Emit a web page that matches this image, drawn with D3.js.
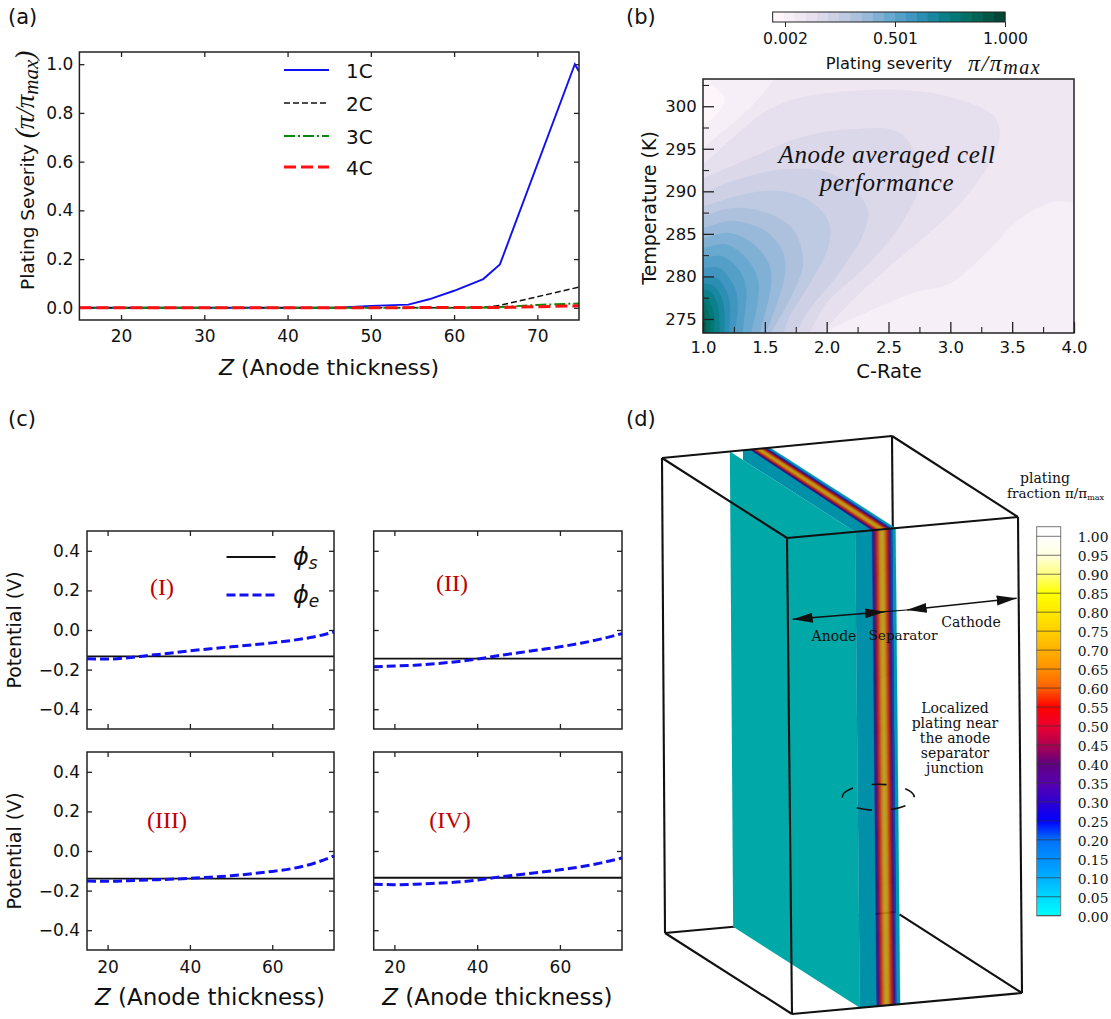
<!DOCTYPE html>
<html>
<head>
<meta charset="utf-8">
<script src="https://cdn.jsdelivr.net/npm/d3@7"></script>
<style>
  html, body { margin: 0; padding: 0; background: #fff; }
  svg { display: block; }
  text { font-family: "DejaVu Sans", sans-serif; fill: #111; }
  .serif { font-family: "DejaVu Serif", serif; }
  .math { font-family: "Liberation Serif", serif; font-style: italic; }
</style>
</head>
<body>
<svg id="fig" width="1111" height="1019"></svg>
<script>
// (a) plating severity vs anode thickness
const rateNames = ['1C', '2C', '3C', '4C'];
const rate1C = [[15, 0], [46, 0], [50, 0.008], [54.5, 0.013], [57, 0.035], [60, 0.07], [63.5, 0.118], [65.5, 0.178], [74.5, 1.0], [75, 0.97]];
const rate2C = [[15, 0], [60, 0], [64, 0.004], [65.5, 0.01], [75, 0.085]];
const rate3C = [[15, 0], [62, 0], [65, 0.002], [70, 0.012], [75, 0.018]];
const rate4C = [[15, 0], [65, 0.001], [75, 0.008]];

// (b) filled contour boundaries as [C-rate, temperature]
const severityLevels = [0.15, 0.2, 0.25, 0.3, 0.35, 0.4, 0.45, 0.5, 0.55, 0.6, 0.65, 0.7, 0.75, 0.8, 0.85, 0.9, 0.95];
const severityBoundaries = [
  [[0.9, 292.2], [1, 293.15], [1.24, 296.3], [1.51, 299.4], [1.78, 301], [2.21, 301.8], [2.62, 301.9], [3.02, 301], [3.35, 298.9], [3.4, 296.9], [3.35, 294.1], [3.13, 289.4], [2.86, 285.5], [2.48, 280.8], [2.16, 276.5], [1.97, 273.35], [1.9, 272]],
  [[0.9, 291.2], [1, 291.6], [1.38, 293.9], [1.78, 296.3], [2.19, 297.3], [2.59, 296.9], [2.74, 293.3], [2.74, 290.2], [2.59, 285.9], [2.32, 281.2], [2, 276.9], [1.86, 273.35], [1.8, 272]],
  [[0.9, 289.4], [1, 289.8], [1.24, 291.2], [1.65, 292.6], [2.05, 292], [2.33, 288.05], [2.3, 285.1], [2.08, 280], [1.86, 276.1], [1.755, 273.35], [1.7, 272]],
  [[0.9, 288], [1, 288.25], [1.38, 289.8], [1.65, 290], [1.89, 288.6], [2.025, 286.1], [2.01, 283.35], [1.89, 279.8], [1.7, 275.3], [1.65, 273.35], [1.62, 272]],
  [[0.9, 286.8], [1, 287.1], [1.24, 288.05], [1.51, 287.5], [1.73, 285.5], [1.81, 281.6], [1.73, 278.1], [1.55, 273.35], [1.5, 272]],
  [[0.9, 285.5], [1, 285.7], [1.24, 286.5], [1.51, 285.3], [1.65, 282.75], [1.66, 280], [1.59, 276.5], [1.51, 273.35], [1.48, 272]],
  [[0.9, 284.3], [1, 284.5], [1.22, 285.1], [1.43, 283.55], [1.54, 281.2], [1.55, 278.85], [1.46, 273.35], [1.44, 272]],
  [[0.9, 283.2], [1, 283.35], [1.19, 283.75], [1.36, 282], [1.445, 279.6], [1.445, 277.3], [1.39, 273.35], [1.37, 272]],
  [[0.9, 282], [1, 282.15], [1.16, 282.35], [1.3, 280.6], [1.35, 278.45], [1.345, 276.5], [1.32, 273.35], [1.31, 272]],
  [[0.9, 281], [1, 281], [1.13, 281], [1.24, 279.2], [1.28, 277.3], [1.26, 273.35], [1.25, 272]],
  [[0.9, 280], [1, 280], [1.11, 279.8], [1.19, 278.25], [1.22, 276.3], [1.21, 273.35], [1.2, 272]],
  [[0.9, 279.3], [1, 279.2], [1.09, 278.85], [1.156, 277.3], [1.175, 275.3], [1.17, 273.35], [1.16, 272]],
  [[0.9, 278.6], [1, 278.45], [1.07, 278.05], [1.12, 276.5], [1.135, 273.35], [1.13, 272]],
  [[0.9, 277.9], [1, 277.7], [1.05, 277.1], [1.09, 275.3], [1.09, 273.35], [1.09, 272]],
  [[0.9, 277.3], [1, 277.1], [1.03, 276.3], [1.06, 274.9], [1.06, 273.35], [1.06, 272]],
  [[0.9, 276.4], [1, 276.1], [1.02, 275.1], [1.03, 273.35], [1.03, 272]],
  [[0.9, 275.6], [1, 275.3], [1.01, 273.35], [1.01, 272]]
];
const lightTopBand = [[1.62, 304], [1.58, 303.2], [1.38, 299.8], [1.13, 296.7], [1, 295.1], [0.9, 294.4]];
const lightTopLobe = [[0.98, 304], [1.05, 302.7], [1.175, 301], [1.11, 299], [1, 297.85], [0.9, 297.5]];
const lightRightBand = [[1.95, 272], [2, 273.35], [2.376, 276.1], [2.7, 278.05], [3, 279.2], [3.29, 282.75], [3.56, 286.7], [3.83, 288.75], [4, 288.6], [4.1, 288.2]];
const severityTicks = [0.002, 0.501, 1.0];

// (c) potentials along the anode
const zPhi = [15, 20, 25, 30, 35, 40, 45, 50, 55, 60, 65, 70, 75];
const phiEI = [-0.145, -0.147, -0.14, -0.128, -0.118, -0.105, -0.095, -0.085, -0.075, -0.065, -0.052, -0.035, -0.01];
const phiEII = [-0.185, -0.182, -0.178, -0.17, -0.16, -0.147, -0.13, -0.115, -0.1, -0.085, -0.067, -0.045, -0.018];
const phiEIII = [-0.152, -0.153, -0.15, -0.146, -0.143, -0.138, -0.132, -0.125, -0.115, -0.103, -0.088, -0.063, -0.025];
const phiEIV = [-0.168, -0.17, -0.168, -0.163, -0.157, -0.147, -0.132, -0.12, -0.108, -0.095, -0.08, -0.06, -0.035];
const phiS = [-0.133, -0.145, -0.14, -0.135];
const caseNames = ['(I)', '(II)', '(III)', '(IV)'];

// (d) plating colour bar
const platingTicks = d3.range(0, 21).map(i => i * 0.05);
const platingStops = [0, 0.05, 0.1, 0.15, 0.2, 0.25, 0.3, 0.35, 0.4, 0.45, 0.5, 0.55, 0.6, 0.65, 0.7, 0.75, 0.8, 0.85, 0.9, 0.95, 1];
const platingColors = ['#00ffff', '#00d8ff', '#00b0ff', '#0090ff', '#0070f8', '#0000ff', '#3000d0', '#5800b0', '#600080', '#b00050', '#ee0030', '#ff0000', '#ff6000', '#ff9000', '#ffb000', '#ffd000', '#ffe800', '#ffff00', '#ffff80', '#ffffe0', '#ffffff'];
// colour across the separator strip, read from left to right
const stripStops = [0, 0.1, 0.18, 0.28, 0.38, 0.5, 0.62, 0.72, 0.82, 0.9, 1];
const stripColors = ['#0c2c9a', '#2a0a80', '#8a0a28', '#c0300e', '#c07a10', '#b3a512', '#c47e10', '#c0330e', '#8a0a28', '#1a0c90', '#0a50b8'];

const svg = d3.select('#fig');
const defs = svg.append('defs');

function label(parent, x, y, str, size, anchor, cls) {
  return parent.append('text').attr('x', x).attr('y', y).attr('font-size', size)
    .attr('text-anchor', anchor || 'start').attr('class', cls || null).text(str);
}

// axes with inward ticks on the sides asked for
function drawAxis(g, axis, tx, ty, vals, len, fmt, pad, width, showText) {
  const a = g.append('g').attr('transform', `translate(${tx},${ty})`)
    .call(axis.tickValues(vals).tickSizeInner(len).tickSizeOuter(0).tickPadding(pad).tickFormat(showText ? fmt : () => ''));
  a.attr('font-size', null).attr('font-family', null);
  a.select('.domain').remove();
  a.selectAll('line').attr('stroke', '#222').attr('stroke-width', width);
  a.selectAll('text').attr('fill', '#111');
  return a;
}

function frame(g, x, y) {
  const [x0, x1] = x.range(), [y1, y0] = y.range();
  g.append('rect').attr('x', x0).attr('y', y0).attr('width', x1 - x0).attr('height', y1 - y0)
    .attr('fill', 'none').attr('stroke', '#222').attr('stroke-width', 1.5);
}

['(a)', '(b)', '(c)', '(d)'].forEach((s, i) => {
  label(svg, [8, 626, 8, 626][i], [24, 24, 426, 426][i], s, 21);
});

// ---------- panel a
const panelA = svg.append('g').attr('font-size', 17);
const xA = d3.scaleLinear().domain([15, 75]).range([79.4, 579]);
const yA = d3.scaleLinear().domain([-0.05, 1.05]).range([320, 52]);
const clipA = defs.append('clipPath').attr('id', 'clipA');
clipA.append('rect').attr('x', 79.4).attr('y', 52).attr('width', 499.6).attr('height', 268);
const lineA = d3.line().x(d => xA(d[0])).y(d => yA(d[1]));
const rateSeries = [rate1C, rate2C, rate3C, rate4C];
const rateColors = ['#1010f0', '#111', '#0a8a0a', '#ff1010'];
const rateDash = [null, '6 3', '11 3 2 3', '12 5'];
const rateWidth = [1.9, 1.5, 2, 3];
const axisTicksA = d3.range(20, 71, 10);
const axisTicksAy = [0, 0.2, 0.4, 0.6, 0.8, 1.0];
drawAxis(panelA, d3.axisBottom(xA), 0, 320, axisTicksA, -5, d3.format('d'), 9.5, 1.3, true);
drawAxis(panelA, d3.axisTop(xA), 0, 52, axisTicksA, -5, null, 3, 1.3, false);
drawAxis(panelA, d3.axisLeft(yA), 79.4, 0, axisTicksAy, -5, d3.format('.1f'), 6, 1.3, true);
drawAxis(panelA, d3.axisRight(yA), 579, 0, axisTicksAy, -5, null, 3, 1.3, false);
panelA.append('g').attr('clip-path', 'url(#clipA)').selectAll('path').data(rateSeries).join('path')
  .attr('d', lineA).attr('fill', 'none')
  .attr('stroke', (d, i) => rateColors[i]).attr('stroke-width', (d, i) => rateWidth[i])
  .attr('stroke-dasharray', (d, i) => rateDash[i]);
frame(panelA, xA, yA);
rateNames.forEach((n, i) => {
  const yy = [70, 103, 136, 167][i];
  panelA.append('line').attr('x1', 284).attr('x2', 329).attr('y1', yy).attr('y2', yy)
    .attr('stroke', rateColors[i]).attr('stroke-width', rateWidth[i]).attr('stroke-dasharray', rateDash[i]);
  label(panelA, 346, yy + 7.5, n, 20);
});
const zLabelA = label(panelA, 219, 375, '', 22);
zLabelA.append('tspan').attr('font-style', 'italic').text('Z');
zLabelA.append('tspan').text(' (Anode thickness)');
const yLabA = panelA.append('text').attr('transform', 'translate(34,290) rotate(-90)').attr('font-size', 18.5);
yLabA.append('tspan').text('Plating Severity ');
yLabA.append('tspan').attr('class', 'math').attr('font-size', 27).text('(π/π');
yLabA.append('tspan').attr('class', 'math').attr('font-size', 21).attr('dy', 4).text('max');
yLabA.append('tspan').attr('class', 'math').attr('font-size', 27).attr('dy', -4).text(')');

// ---------- panel b
const panelB = svg.append('g').attr('font-size', 16.5);
const xB = d3.scaleLinear().domain([1, 4]).range([703, 1074]);
const yB = d3.scaleLinear().domain([273.35, 303.2]).range([333, 79]);
const clipB = defs.append('clipPath').attr('id', 'clipB');
clipB.append('rect').attr('x', 703).attr('y', 79).attr('width', 371).attr('height', 254);
const shade = v => d3.interpolatePuBuGn(Math.max(0, v));
const lineB = d3.line().x(d => xB(d[0])).y(d => yB(d[1])).curve(d3.curveCatmullRom.alpha(0.5));
const mapB = panelB.append('g').attr('clip-path', 'url(#clipB)');
mapB.append('rect').attr('x', 703).attr('y', 79).attr('width', 371).attr('height', 254).attr('fill', shade(0.1));
const cornerBL = `L${xB(0.8)},${yB(270)}Z`, cornerTL = `L${xB(0.8)},${yB(305)}Z`, cornerBR = `L${xB(4.2)},${yB(270)}Z`;
mapB.append('path').attr('d', lineB(lightTopBand) + cornerTL).attr('fill', shade(0.05));
mapB.append('path').attr('d', lineB(lightTopLobe) + cornerTL).attr('fill', shade(0.01));
mapB.append('path').attr('d', lineB(lightRightBand) + cornerBR).attr('fill', shade(0.05));
mapB.selectAll('path.band').data(severityBoundaries).join('path').attr('class', 'band')
  .attr('d', d => lineB(d) + cornerBL)
  .attr('fill', (d, i) => shade(severityLevels[i]));
const majorC = [1, 1.5, 2, 2.5, 3, 3.5, 4];
const minorC = [1.25, 1.75, 2.25, 2.75, 3.25, 3.75];
const majorT = [275, 280, 285, 290, 295, 300];
const minorT = [277.5, 282.5, 287.5, 292.5, 297.5, 302.5];
drawAxis(panelB, d3.axisBottom(xB), 0, 333, majorC, -11, d3.format('.1f'), 8, 1.3, true);
drawAxis(panelB, d3.axisBottom(xB), 0, 333, minorC, -6, null, 3, 1.1, false);
drawAxis(panelB, d3.axisLeft(yB), 703, 0, majorT, -11, d3.format('d'), 6.3, 1.3, true);
drawAxis(panelB, d3.axisLeft(yB), 703, 0, minorT, -6, null, 3, 1.1, false);
frame(panelB, xB, yB);
label(panelB, 889, 378, 'C-Rate', 19.5, 'middle');
panelB.append('text').attr('transform', 'translate(656,208) rotate(-90)').attr('font-size', 19)
  .attr('text-anchor', 'middle').text('Temperature (K)');
label(panelB, 887, 163, 'Anode averaged cell', 25, 'middle', 'math').attr('letter-spacing', 0.6);
label(panelB, 887, 191, 'performance', 25, 'middle', 'math').attr('letter-spacing', 0.6);

// severity colour bar
const barB = d3.scaleLinear().domain([0.002, 1]).range([785, 1005]);
const barEdges = d3.range(0, 22).map(i => -0.054 + i * 0.0502);
panelB.selectAll('rect.sev').data(barEdges.slice(0, 21)).join('rect').attr('class', 'sev')
  .attr('x', d => barB(d)).attr('y', 12).attr('height', 10)
  .attr('width', (d, i) => barB(barEdges[i + 1]) - barB(d) + 0.4)
  .attr('fill', (d, i) => shade(i / 20));
panelB.append('rect').attr('x', barB(-0.054)).attr('y', 12).attr('width', barB(1) - barB(-0.054)).attr('height', 10)
  .attr('fill', 'none').attr('stroke', '#222').attr('stroke-width', 1);
const tickBar = drawAxis(panelB, d3.axisBottom(barB), 0, 22, severityTicks, 5, d3.format('.3f'), 6, 1, true);
tickBar.selectAll('text').attr('font-size', 15.7);
label(panelB, 889, 69, 'Plating severity', 16.3, 'middle');
const sevMath = label(panelB, 968, 71, 'π/π', 24, 'start', 'math').attr('letter-spacing', 1.5);
sevMath.append('tspan').attr('font-size', 20).attr('dy', 3).text('max');

// ---------- panel c
const panelC = svg.append('g').attr('font-size', 17);
const phiESeries = [phiEI, phiEII, phiEIII, phiEIV];
const layoutC = [[87, 334, 729], [373.7, 622, 729], [87, 334, 950], [373.7, 622, 950]];
const caseX = [162, 452, 167, 450], caseY = [595, 591, 828, 828];
const yTicksC = [-0.4, -0.2, 0, 0.2, 0.4];
const xTicksC = [20, 40, 60];
phiESeries.forEach((vals, i) => {
  const [l, r, b] = layoutC[i];
  const x = d3.scaleLinear().domain([15, 75]).range([l, r]);
  const y = d3.scaleLinear().domain([-0.5, 0.5]).range([b, b - 198]);
  const g = panelC.append('g');
  drawAxis(g, d3.axisBottom(x), 0, b, xTicksC, -5, d3.format('d'), 10.7, 1.3, i > 1);
  drawAxis(g, d3.axisTop(x), 0, b - 198, xTicksC, -5, null, 3, 1.3, false);
  drawAxis(g, d3.axisLeft(y), l, 0, yTicksC, -5, d3.format('.1f'), 7, 1.3, i % 2 === 0);
  drawAxis(g, d3.axisRight(y), r, 0, yTicksC, -5, null, 3, 1.3, false);
  g.append('line').attr('x1', x(15)).attr('x2', x(75)).attr('y1', y(phiS[i])).attr('y2', y(phiS[i]))
    .attr('stroke', '#111').attr('stroke-width', 1.8);
  g.append('path').datum(vals)
    .attr('d', d3.line().x((d, k) => x(zPhi[k])).y(d => y(d)).curve(d3.curveMonotoneX))
    .attr('fill', 'none').attr('stroke', '#1010f0').attr('stroke-width', 3).attr('stroke-dasharray', '9 4');
  frame(g, x, y);
  label(g, caseX[i], caseY[i], caseNames[i], 24, 'middle').style('font-family', '"Liberation Serif", serif').style('fill', '#c00000');
  if (i % 2 === 0) {
    g.append('text').attr('transform', `translate(21,${b - 99}) rotate(-90)`).attr('font-size', 19)
      .attr('text-anchor', 'middle').text('Potential (V)');
  }
  if (i > 1) {
    const zl = label(g, (l + r) / 2 - 0.5, 1005, '', 23, 'middle');
    zl.append('tspan').attr('font-style', 'italic').text('Z');
    zl.append('tspan').text(' (Anode thickness)');
  }
});
panelC.append('line').attr('x1', 226.5).attr('x2', 275.5).attr('y1', 557).attr('y2', 557).attr('stroke', '#111').attr('stroke-width', 1.8);
panelC.append('line').attr('x1', 226.5).attr('x2', 275.5).attr('y1', 595).attr('y2', 595).attr('stroke', '#1010f0').attr('stroke-width', 3).attr('stroke-dasharray', '9 4');
['s', 'e'].forEach((sub, i) => {
  const t = label(panelC, 293, [565, 603][i], '', 24).attr('font-style', 'italic');
  t.append('tspan').text('ϕ');
  t.append('tspan').attr('font-size', 17).attr('dy', 4).text(sub);
});

// ---------- panel d, a box projected from its eight corners
const panelD = svg.append('g');
const backTopL = [662, 458], backTopR = [892, 436], frontTopL = [787, 538], frontTopR = [1018, 517];
const backBotL = [665, 933], backBotR = [896, 912], frontBotL = [792, 1014], frontBotR = [1022, 993];
const mix = (a, b, t) => [a[0] + (b[0] - a[0]) * t, a[1] + (b[1] - a[1]) * t];
// u runs left to right, v front to back, w bottom to top
function proj(u, v, w) {
  const bottom = mix(mix(frontBotL, frontBotR, u), mix(backBotL, backBotR, u), v);
  const top = mix(mix(frontTopL, frontTopR, u), mix(backTopL, backTopR, u), v);
  return mix(bottom, top, w);
}
const poly = d3.line();
const edge = (g, a, b, w) => g.append('path').attr('d', poly([a, b])).attr('fill', 'none').attr('stroke', '#111').attr('stroke-width', w || 2.1);
edge(panelD, backTopR, backBotR);
edge(panelD, backBotL, backBotR);

const uAnode = 0.295, uStripL = 0.368, uStripR = 0.455, uEdge = 0.47;
const backU = d3.scaleLinear().domain([uAnode, uStripL, uEdge]).range([0.352, 0.383, 0.47]);
const stripColor = d3.scaleLinear().domain(stripStops).range(stripColors);
// side sheet of the anode
panelD.append('path').attr('d', poly([proj(uAnode, 0, 1), proj(uAnode, 1, 1), proj(uAnode, 1, 0), proj(uAnode, 0, 0)]) + 'Z').attr('fill', '#00a8a8');
// flat bands on the front and the top
function band(u0, u1, color) {
  panelD.append('path').attr('d', poly([proj(u0, 0, 1), proj(u1, 0, 1), proj(u1, 0, 0), proj(u0, 0, 0)]) + 'Z')
    .attr('fill', color).attr('stroke', color).attr('stroke-width', 0.3);
  panelD.append('path').attr('d', poly([proj(u0, 0, 1), proj(backU(u0), 1, 1), proj(backU(u1), 1, 1), proj(u1, 0, 1)]) + 'Z')
    .attr('fill', color).attr('stroke', color).attr('stroke-width', 0.3);
}
band(uAnode, uStripL, '#0090a8');
panelD.append('path').attr('d', poly([proj(uAnode, 0, 1), proj(uAnode, 0.895, 1), proj(backU(uAnode), 1, 1), proj(backU(uAnode) + 0.02, 0.6, 1)]) + 'Z').attr('fill', '#0090a8');
band(uStripR, uEdge, '#009ab0');
const stripSteps = d3.range(0, 40);
stripSteps.forEach(i => {
  const u = d3.scaleLinear().domain([0, 40]).range([uStripL, uStripR]);
  band(u(i), u(i + 1), stripColor((i + 0.5) / 40));
});

edge(panelD, backTopL, backTopR);
edge(panelD, backTopL, backBotL);
edge(panelD, backTopL, frontTopL);
edge(panelD, backTopR, frontTopR);
edge(panelD, frontTopL, frontTopR);
edge(panelD, frontTopL, frontBotL);
edge(panelD, frontTopR, frontBotR);
edge(panelD, backBotL, frontBotL);
edge(panelD, frontBotL, frontBotR);
edge(panelD, frontBotR, mix(frontBotR, backBotR, 0.972));

// the region arrows
const head = defs.append('marker').attr('id', 'arrowHead').attr('markerUnits', 'userSpaceOnUse')
  .attr('markerWidth', 22).attr('markerHeight', 12).attr('refX', 20).attr('refY', 6).attr('orient', 'auto-start-reverse');
head.append('path').attr('d', 'M0,1 L20,6 L0,11 Z').attr('fill', '#111');
const arrow = (a, b) => panelD.append('path').attr('d', poly([a, b])).attr('stroke', '#111').attr('stroke-width', 1.5)
  .attr('marker-start', 'url(#arrowHead)').attr('marker-end', 'url(#arrowHead)');
arrow([792.7, 619.3], [885, 611.7]);
arrow([906.7, 610], [1016.7, 598.3]);
edge(panelD, [885, 611.7], [906.7, 610], 1.2);

const noteFont = 14;
label(panelD, 834, 641, 'Anode', noteFont, 'middle', 'serif');
label(panelD, 903, 640, 'Separator', 13.6, 'middle', 'serif');
label(panelD, 971, 627, 'Cathode', noteFont, 'middle', 'serif');
['Localized', 'plating near', 'the anode', 'separator', 'junction'].forEach((s, i) => {
  label(panelD, 955, [713, 728, 743, 758, 773][i], s, noteFont, 'middle', 'serif');
});
panelD.append('ellipse').attr('cx', 878.3).attr('cy', 797.3).attr('rx', 36).attr('ry', 13)
  .attr('fill', 'none').attr('stroke', '#111').attr('stroke-width', 1.6)
  .attr('stroke-dasharray', '15 19').attr('stroke-dashoffset', -13);

// plating colour bar
const barD = d3.scaleLinear().domain([0, 1]).range([915.7, 536.3]);
const barTop = 526.7, barBottom = barD(0);
const grad = defs.append('linearGradient').attr('id', 'platingGrad').attr('x1', 0).attr('x2', 0).attr('y1', 1).attr('y2', 0);
platingStops.forEach((v, i) => {
  grad.append('stop').attr('offset', (barBottom - barD(v)) / (barBottom - barTop)).attr('stop-color', platingColors[i]);
});
panelD.append('rect').attr('x', 1036.7).attr('y', barTop).attr('width', 24).attr('height', barBottom - barTop)
  .attr('fill', 'url(#platingGrad)').attr('stroke', '#777').attr('stroke-width', 1);
panelD.selectAll('line.lev').data(platingTicks).join('line').attr('class', 'lev')
  .attr('x1', 1036.7).attr('x2', 1060.7).attr('y1', d => barD(d)).attr('y2', d => barD(d))
  .attr('stroke', '#333').attr('stroke-opacity', 0.75).attr('stroke-width', 0.9);
panelD.selectAll('text.lev').data(platingTicks).join('text').attr('class', 'lev serif')
  .attr('x', 1077.7).attr('y', d => barD(d) + 6).attr('font-size', 13.8).text(d => d.toFixed(2));
label(panelD, 1045, 483, 'plating', 14, 'middle', 'serif');
const fracText = label(panelD, 1007, 498, 'fraction π/π', 13.5, 'start', 'serif');
fracText.append('tspan').attr('font-size', 8).attr('dy', 2).text('max');
</script>
</body>
</html>
